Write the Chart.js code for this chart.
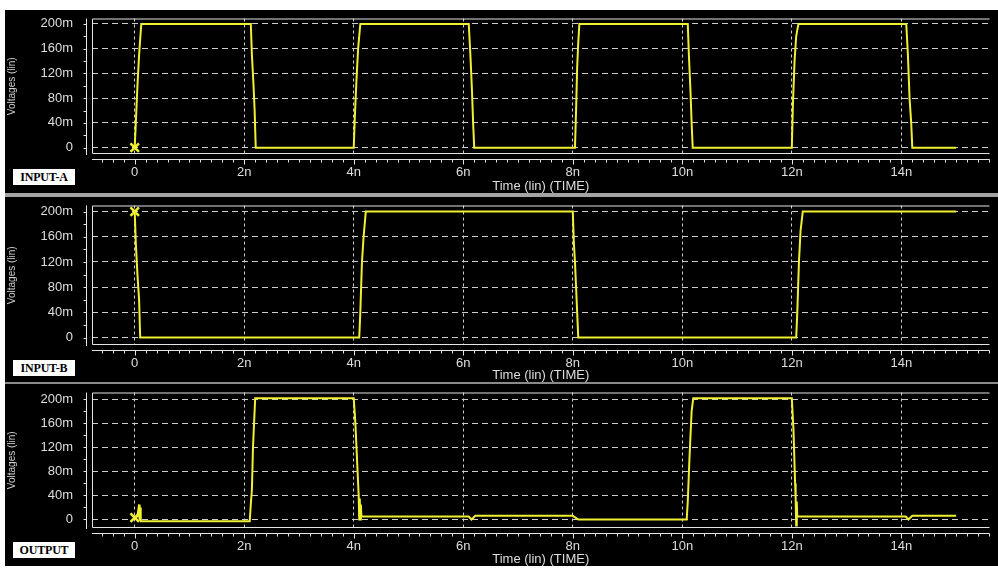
<!DOCTYPE html>
<html><head><meta charset="utf-8">
<script src="https://cdn.jsdelivr.net/npm/chart.js@4.4.0/dist/chart.umd.min.js"></script>
<style>
html,body{margin:0;padding:0;background:#fff;width:998px;height:570px;overflow:hidden;position:relative}
#bg{position:absolute;left:5px;top:10px;width:993px;height:556px;background:#000}
canvas{position:absolute;left:5px}
.sep{position:absolute;left:5px;width:993px}
.tag{position:absolute;left:13px;width:62px;height:16px;background:#fff;color:#000;font:bold 12px "Liberation Serif",serif;line-height:16px;text-align:center;letter-spacing:-0.2px}
</style></head><body>
<div id="bg"></div>
<canvas id="c1" width="993" height="183" style="top:10px"></canvas>
<canvas id="c2" width="993" height="185" style="top:197px"></canvas>
<canvas id="c3" width="993" height="182" style="top:384px"></canvas>
<div class="sep" style="top:193px;height:4px;background:#a4a4a4"></div>
<div class="sep" style="top:382px;height:2px;background:#8a8a8a"></div>
<div class="tag" style="top:169px">INPUT-A</div>
<div class="tag" style="top:360px">INPUT-B</div>
<div class="tag" style="top:542px">OUTPUT</div>
<script>
// ---- data (time in ns, voltage in mV) ----
const tickTimes = [0, 2, 4, 6, 8, 10, 12, 14];
const tickTimeLabels = ['0', '2n', '4n', '6n', '8n', '10n', '12n', '14n'];
const tickVolts = [0, 40, 80, 120, 160, 200];
const tickVoltLabels = ['0', '40m', '80m', '120m', '160m', '200m'];

const inputATime = [0, 0.03, 0.05, 0.08, 0.12, 2.12, 2.14, 2.17, 2.19, 2.21, 4.0, 4.02, 4.05, 4.08, 4.12,
  6.1, 6.13, 6.16, 6.18, 6.2, 8.04, 8.06, 8.08, 8.1, 8.12, 10.1, 10.12, 10.15, 10.17, 10.19,
  12.0, 12.02, 12.05, 12.08, 12.12, 14.09, 14.12, 14.15, 14.18, 14.2, 15.0];
const inputAVolt = [0, 60, 100, 150, 200, 200, 150, 100, 60, 0, 0, 50, 110, 160, 200,
  200, 150, 90, 40, 0, 0, 60, 130, 170, 200, 200, 150, 90, 40, 0,
  0, 70, 140, 180, 200, 200, 150, 80, 40, 0, 0];

const inputBTime = [0, 0.02, 0.05, 0.08, 0.1, 4.1, 4.12, 4.15, 4.18, 4.22, 8.0, 8.02, 8.04, 8.07, 8.1,
  12.08, 12.1, 12.13, 12.16, 12.2, 15.0];
const inputBVolt = [200, 150, 100, 60, 0, 0, 40, 120, 160, 200, 200, 150, 120, 60, 0,
  0, 40, 120, 170, 200, 200];

const outputTime = [0, 0.05, 0.08, 0.09, 0.1, 0.11, 2.1, 2.12, 2.14, 2.16, 2.2, 4.0, 4.03, 4.06, 4.09,
  4.1, 4.11, 4.12, 4.13, 4.14, 4.2, 6.1, 6.15, 6.22, 8.0, 8.1, 10.08, 10.1, 10.13, 10.17, 10.2,
  12.0, 12.03, 12.06, 12.07, 12.08, 12.09, 12.1, 12.15, 14.08, 14.13, 14.2, 15.0];
const outputVolt = [3, 5, 25, -2, 20, -3, -3, 25, 50, 120, 202, 202, 160, 100, 40,
  0, 35, 0, 25, 5, 5, 5, 0, 6, 6, 0, 0, 30, 100, 180, 202,
  202, 150, 60, 35, -10, 30, 5, 5, 5, 0, 6, 6];

const X_MIN = -0.78, X_MAX = 15.61;
const YEL = '#f0f032', GRID = '#cdcdcd', TXT = '#dedede', FF = '"Liberation Sans", Arial, sans-serif';

const scopeFrame = {
  id: 'scopeFrame',
  afterDraw(chart) {
    const {ctx, chartArea: a, scales: {x, y}} = chart;
    ctx.save();
    ctx.strokeStyle = '#e4e4e4';
    ctx.lineWidth = 1;
    ctx.beginPath();
    ctx.moveTo(a.right, a.top + 0.5); ctx.lineTo(a.left + 0.5, a.top + 0.5);
    ctx.lineTo(a.left + 0.5, a.bottom - 0.5); ctx.lineTo(a.right, a.bottom - 0.5);
    // y axis line with minor ticks
    const ax = a.left - 5.5;
    ctx.moveTo(ax, a.top); ctx.lineTo(ax, a.bottom + 1);
    for (let v = Math.ceil(y.min / 20) * 20; v <= y.max; v += 20) {
      const py = Math.round(y.getPixelForValue(v)) + 0.5;
      ctx.moveTo(ax, py); ctx.lineTo(ax - 3, py);
    }
    // x axis line with minor ticks
    const ay = a.bottom + 5.5;
    ctx.moveTo(a.left, ay); ctx.lineTo(a.right, ay);
    for (let i = Math.ceil(X_MIN / 0.2); i * 0.2 <= X_MAX; i++) {
      const px = Math.round(x.getPixelForValue(i * 0.2)) + 0.5;
      const len = (i % 10 === 0) ? 5 : 3;
      ctx.moveTo(px, ay); ctx.lineTo(px, ay + len);
    }
    ctx.stroke();
    ctx.restore();
  }
};

function makeChart(id, times, volts, yMin, yMax, topPad, axisH) {
  const pts = times.map((t, i) => ({x: t, y: volts[i]}));
  return new Chart(document.getElementById(id), {
    type: 'line',
    data: {datasets: [{
      data: pts, borderColor: YEL, borderWidth: 2, tension: 0, fill: false,
      pointRadius: c => c.dataIndex === 0 ? 6 : 0, pointHoverRadius: 0,
      pointStyle: 'crossRot', pointBorderColor: YEL, pointBorderWidth: 2.5, pointBackgroundColor: YEL
    }]},
    options: {
      responsive: false, animation: false, devicePixelRatio: 1, events: [],
      layout: {padding: {top: topPad, left: 0, right: 0, bottom: 0}},
      plugins: {legend: {display: false}, tooltip: {enabled: false}},
      scales: {
        x: {
          type: 'linear', min: X_MIN, max: X_MAX,
          afterFit: s => { s.height = axisH; s.paddingLeft = 0; s.paddingRight = 0; },
          afterBuildTicks: s => { s.ticks = tickTimes.map(v => ({value: v})); },
          grid: {color: GRID, lineWidth: 1, drawTicks: false},
          border: {display: false, dash: [3, 3]},
          ticks: {color: TXT, font: {family: FF, size: 13}, padding: 11, maxRotation: 0, autoSkip: false,
            callback: v => tickTimeLabels[tickTimes.indexOf(v)]},
          title: {display: true, text: 'Time (lin) (TIME)', color: TXT, font: {family: FF, size: 13, lineHeight: 1}, padding: 0}
        },
        y: {
          type: 'linear', min: yMin, max: yMax,
          afterFit: s => { s.width = 87; s.paddingTop = 0; s.paddingBottom = 0; },
          afterBuildTicks: s => { s.ticks = tickVolts.map(v => ({value: v})); },
          grid: {color: GRID, lineWidth: 1, drawTicks: false},
          border: {display: false, dash: [6, 4]},
          ticks: {color: TXT, font: {family: FF, size: 13}, padding: 19, autoSkip: false,
            callback: v => tickVoltLabels[tickVolts.indexOf(v)]},
          title: {display: true, text: 'Voltages (lin)', color: '#cfcfcf', font: {family: FF, size: 10, lineHeight: 1}, padding: {top: 2, bottom: 0}}
        }
      }
    },
    plugins: [scopeFrame]
  });
}

makeChart('c1', inputATime, inputAVolt, -10.3, 208.7, 1, 39);
makeChart('c2', inputBTime, inputBVolt, -11.8, 209.7, 4, 37);
makeChart('c3', outputTime, outputVolt, -14.2, 211.5, 1, 38);
</script>
</body></html>
